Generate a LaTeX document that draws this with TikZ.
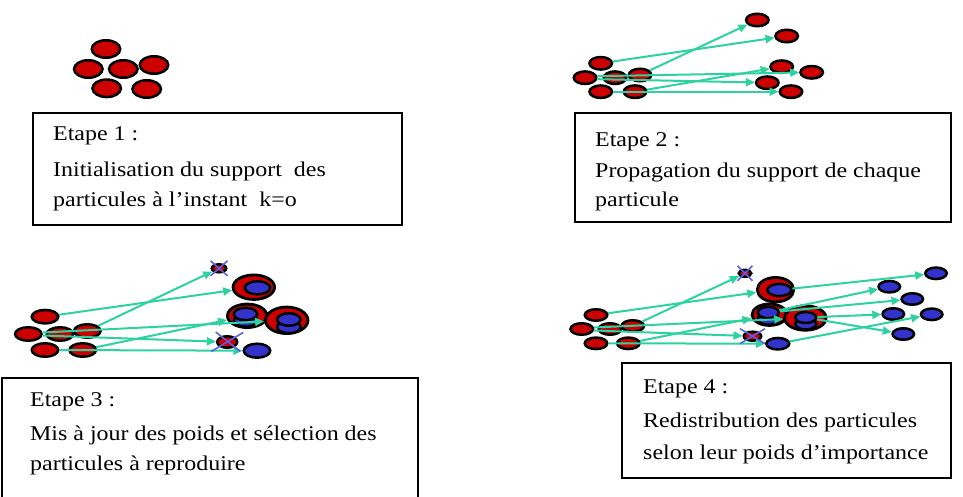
\documentclass[tikz,border=0pt]{standalone}
\usepackage{fontspec}
\setmainfont{Liberation Serif}[FakeStretch=1.14]
\usetikzlibrary{shapes.geometric,arrows.meta}

\definecolor{pred}{RGB}{204,0,0}
\definecolor{pblue}{RGB}{51,51,204}
\definecolor{flowgreen}{RGB}{45,210,160}
\definecolor{killblue}{RGB}{95,95,230}

\begin{document}
\begin{tikzpicture}[x=1pt,y=-1pt,
  particle/.style={ellipse, draw=black, line width=2.5pt, inner sep=0pt},
  redp/.style={particle, fill=pred},
  bluep/.style={particle, fill=pblue},
  heavy/.style={line width=2.8pt},
  psize/.style 2 args={minimum width=#1pt, minimum height=#2pt},
  flow/.style={draw=flowgreen, line width=2pt, -{Triangle[length=9pt,width=8pt]}},
  kill/.style={draw=killblue, line width=1.6pt},
  stepbox/.style={draw=black, line width=1.4pt},
  caption/.style={anchor=base west, inner sep=0pt, font=\fontsize{21}{24}\selectfont}
]
\useasboundingbox (0,0) rectangle (963,497);
\clip (0,0) rectangle (963,497);

% ---------------- Step 1: initial support ----------------
\begin{scope}[every node/.append style={redp, psize={28.5}{17.5}}]
  \node (a1) at (106,49) {};
  \node (a2) at (88.3,69) {};
  \node (a3) at (123.3,69) {};
  \node (a4) at (154,65) {};
  \node (a5) at (106.7,88.3) {};
  \node (a6) at (146.7,89) {};
\end{scope}

\draw[stepbox] (33,113) rectangle (402,225);
\node[caption] (s1a) at (53,141) {Etape 1 :};
\node[caption] (s1b) at (53,177) {Initialisation du support\ \ des};
\node[caption] (s1c) at (53,207) {particules à l’instant\ \ k=o};

% ---------------- Step 2: propagation ----------------
\begin{scope}[every node/.append style={redp, psize={22.5}{12.5}}]
  \node (b1) at (600.7,63.3) {};
  \node (b2) at (585,77.7) {};
  \node (b3) at (615,77.7) {};
  \node (b4) at (640,75) {};
  \node (b5) at (600.7,91.7) {};
  \node (b6) at (635,91.7) {};
  \node (bt1) at (757.3,20) {};
  \node (bt2) at (786.7,36) {};
  \node (bt3) at (781.7,66.7) {};
  \node (bt4) at (811.7,72.3) {};
  \node (bt5) at (767.3,82.7) {};
  \node (bt6) at (791,91.7) {};
\end{scope}
\draw[flow] (b4) -- (bt1);
\draw[flow] (b1) -- (bt2);
\draw[flow] (b6) -- (bt3);
\draw[flow] ([shift={(0,-1.5)}]b2.east) -- (bt4);
\draw[flow] ([shift={(0,1.5)}]b2.east) -- (bt5);
\draw[flow] (b5) -- (bt6);

\draw[stepbox] (575,113) rectangle (951,222);
\node[caption] (s2a) at (595,147) {Etape 2 :};
\node[caption] (s2b) at (595,178) {Propagation du support de chaque};
\node[caption] (s2c) at (595,207) {particule};

% ---------------- Step 3: weighting and selection ----------------
\begin{scope}[every node/.append style={redp, psize={26.5}{13.5}}]
  \node (c1) at (45,316.7) {};
  \node (c2) at (28.3,334) {};
  \node (c3) at (60,334) {};
  \node (c4) at (87.3,331) {};
  \node (c5) at (45,350) {};
  \node (c6) at (82.7,350) {};
\end{scope}
% discarded particle (small)
\node[redp, psize={14.5}{8}] (cx1) at (219,268.3) {};
% weighted particle, one copy
\node[redp, heavy, psize={41.5}{24.5}] (cw1) at (253.8,287.2) {};
\node[bluep, psize={25.5}{13.2}] (cw1a) at (257.5,287.8) {};
% weighted particle, two copies
\node[redp, heavy, psize={39.5}{23.5}] (cw2) at (247.2,315.8) {};
\node[bluep, psize={23.5}{12.5}] (cw2b) at (245.5,320.5) {};
\node[bluep, psize={23.5}{12.5}] (cw2a) at (245.5,314) {};
% weighted particle, two copies
\node[redp, heavy, psize={42.5}{26.5}] (cw3) at (286.7,320.3) {};
\node[bluep, psize={23.5}{12.5}] (cw3b) at (288.8,327) {};
\node[bluep, psize={23.5}{12.5}] (cw3a) at (288.8,319.5) {};
% discarded particle
\node[redp, psize={20}{11.5}] (cx2) at (227.2,342) {};
% kept particle
\node[bluep, psize={26.5}{14}] (cb1) at (257,350.7) {};

\draw[flow] (c4) -- (cx1);
\draw[flow] (c1) -- (cw1);
\draw[flow] (c6) -- (cw2);
\draw[flow] ([shift={(0,-1.5)}]c2.east) -- (cw3);
\draw[flow] ([shift={(0,1.5)}]c2.east) -- (cx2);
\draw[flow] (c5) -- (cb1);

\draw[kill] ([shift={(-8.5,-7.5)}]cx1.center) -- ([shift={(8.5,7.5)}]cx1.center);
\draw[kill] ([shift={(-8.5,7.5)}]cx1.center) -- ([shift={(8.5,-7.5)}]cx1.center);
\draw[kill] ([shift={(-16,9.5)}]cx2.center) -- ([shift={(16,-9.5)}]cx2.center);
\draw[kill] ([shift={(-11.5,-10)}]cx2.center) -- ([shift={(13,9.5)}]cx2.center);

\draw[stepbox] (2,378) rectangle (418,520);
\node[caption] (s3a) at (30,406) {Etape 3 :};
\node[caption] (s3b) at (30,440) {Mis à jour des poids et sélection des};
\node[caption] (s3c) at (30,470) {particules à reproduire};

% ---------------- Step 4: resampling ----------------
\begin{scope}[every node/.append style={redp, psize={22.5}{11.5}}]
  \node (d1) at (596,315) {};
  \node (d2) at (581.7,329) {};
  \node (d3) at (610,329) {};
  \node (d4) at (632.7,326) {};
  \node (d5) at (596,343.3) {};
  \node (d6) at (628.3,343.3) {};
\end{scope}
\node[redp, psize={12.5}{7}] (dx1) at (745,273.3) {};
\node[redp, heavy, psize={36.5}{24.5}] (dw1) at (775.5,289.7) {};
\node[bluep, psize={24}{12.2}] (dw1a) at (779.3,290) {};
\node[redp, heavy, psize={35}{21.5}] (dw2) at (769.5,314.7) {};
\node[bluep, psize={21}{11.5}] (dw2b) at (768.3,319) {};
\node[bluep, psize={21}{11.5}] (dw2a) at (768.3,312.5) {};
\node[redp, heavy, psize={41.5}{24.5}] (dw3) at (805.3,318) {};
\node[bluep, psize={21}{11}] (dw3b) at (805.7,324) {};
\node[bluep, psize={21}{11}] (dw3a) at (805.7,317.5) {};
\node[redp, psize={17.5}{9}] (dx2) at (752.5,336.2) {};
\node[bluep, psize={23}{11.5}] (db1) at (777.8,343.7) {};

% resampled particles
\begin{scope}[every node/.append style={bluep, psize={21.5}{11.5}}]
  \node (r1) at (936,273.3) {};
  \node (r2) at (889.3,286.7) {};
  \node (r3) at (912.3,299) {};
  \node (r4) at (893.3,314) {};
  \node (r5) at (931.7,314.3) {};
  \node (r6) at (903.3,334) {};
\end{scope}

\draw[flow] (d4) -- (dx1);
\draw[flow] (d1) -- (dw1);
\draw[flow] (d6) -- (dw2);
\draw[flow] ([shift={(0,-1.5)}]d2.east) -- (dw3);
\draw[flow] ([shift={(0,1.5)}]d2.east) -- (dx2);
\draw[flow] (d5) -- (db1);

\draw[flow] (dw1a) -- (r1);
\draw[flow] (dw2a) -- (r2);
\draw[flow] (dw2a) -- (r3);
\draw[flow] (dw3a) -- (r4);
\draw[flow] (dw3a) -- (r6);
\draw[flow] (db1) -- (r5);

\draw[kill] ([shift={(-7.5,-7.5)}]dx1.center) -- ([shift={(7.5,7.5)}]dx1.center);
\draw[kill] ([shift={(-7.5,7.5)}]dx1.center) -- ([shift={(7.5,-7.5)}]dx1.center);
\draw[kill] ([shift={(-12.5,-7.5)}]dx2.center) -- ([shift={(12.5,7.5)}]dx2.center);
\draw[kill] ([shift={(-12.5,7.5)}]dx2.center) -- ([shift={(12.5,-7.5)}]dx2.center);

\draw[stepbox] (622,363) rectangle (951,478);
\node[caption] (s4a) at (643,393) {Etape 4 :};
\node[caption] (s4b) at (643,427) {Redistribution des particules};
\node[caption] (s4c) at (643,459) {selon leur poids d’importance};
\end{tikzpicture}
\end{document}
